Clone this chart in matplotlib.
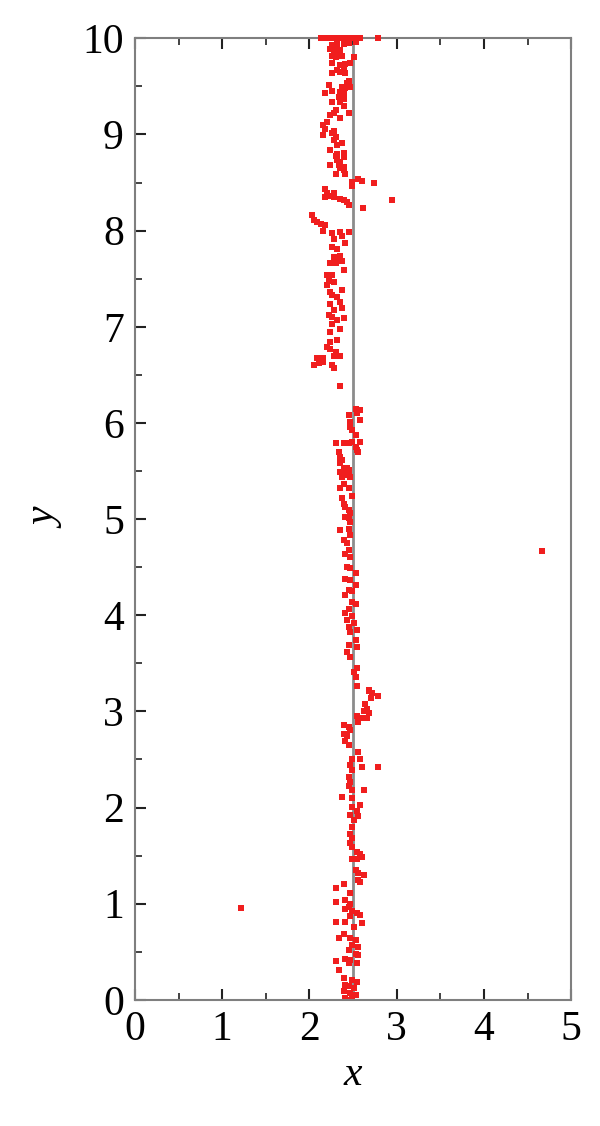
import matplotlib
matplotlib.use("Agg")
import matplotlib.pyplot as plt
import numpy as np

# ---- data ----
top_x = [2.13, 2.16, 2.20, 2.24, 2.28, 2.32, 2.35, 2.39, 2.43, 2.47, 2.51, 2.55, 2.58, 2.79]
top_y = [10.0] * len(top_x)

upper_x = [2.26, 2.32, 2.39, 2.45, 2.53, 2.24, 2.28, 2.35, 2.32, 2.37, 2.26, 2.30, 2.51,
           2.26, 2.35, 2.41, 2.47, 2.39, 2.32, 2.35, 2.41, 2.26,
           2.45, 2.43, 2.22, 2.37, 2.41, 2.47,
           2.26, 2.35, 2.39, 2.18, 2.34, 2.39, 2.26, 2.35, 2.39,
           2.30, 2.28, 2.45, 2.24,
           2.35, 2.20, 2.16, 2.18, 2.28, 2.26, 2.16, 2.30, 2.28, 2.32,
           2.37, 2.24, 2.32, 2.39, 2.30, 2.39, 2.32, 2.35, 2.24, 2.34, 2.35, 2.39, 2.30, 2.41, 2.39,
           2.56, 2.60, 2.49, 2.74, 2.49,
           2.18, 2.20, 2.28,
           2.18, 2.24, 2.28, 2.35, 2.39, 2.43, 2.45, 2.61, 2.95,
           2.03, 2.05, 2.09, 2.13, 2.18, 2.16, 2.26, 2.35, 2.45,
           2.37, 2.28, 2.41, 2.26, 2.32, 2.35, 2.28, 2.34, 2.24, 2.30, 2.37, 2.39,
           2.20, 2.26, 2.22, 2.28, 2.20, 2.37, 2.24, 2.26, 2.32, 2.24, 2.35, 2.37, 2.28, 2.22,
           2.26, 2.39, 2.32, 2.26, 2.35, 2.24, 2.32, 2.24, 2.20, 2.24, 2.30, 2.28, 2.09, 2.16, 2.35,
           2.05, 2.11, 2.16, 2.26, 2.28, 2.35]
upper_y = [9.93, 9.94, 9.94, 9.95, 9.96, 9.89, 9.88, 9.88, 9.84, 9.82, 9.82, 9.81, 9.81,
           9.74, 9.72, 9.73, 9.74, 9.69, 9.67, 9.65, 9.64, 9.64,
           9.56, 9.53, 9.51, 9.49, 9.48, 9.49,
           9.45, 9.44, 9.43, 9.43, 9.39, 9.37, 9.34, 9.34, 9.30,
           9.25, 9.22, 9.22, 9.20,
           9.17, 9.13, 9.10, 9.06, 9.04, 9.01, 8.99, 8.97, 8.94, 8.89,
           8.91, 8.84, 8.80, 8.81, 8.78, 8.77, 8.73, 8.71, 8.68, 8.68, 8.65, 8.66, 8.59, 8.59, 8.63,
           8.54, 8.52, 8.51, 8.50, 8.46,
           8.43, 8.39, 8.39,
           8.35, 8.36, 8.35, 8.33, 8.32, 8.30, 8.27, 8.24, 8.32,
           8.16, 8.11, 8.09, 8.07, 8.06, 8.00, 7.97, 7.99, 7.99,
           7.94, 7.91, 7.87, 7.83, 7.81, 7.74, 7.73, 7.71, 7.66, 7.66, 7.68, 7.59,
           7.54, 7.54, 7.48, 7.47, 7.43, 7.38, 7.36, 7.33, 7.31, 7.24, 7.26, 7.19, 7.17, 7.12,
           7.10, 7.09, 7.07, 7.03, 6.98, 6.95, 6.86, 6.84, 6.79, 6.77, 6.74, 6.70, 6.67, 6.67, 6.70,
           6.60, 6.62, 6.63, 6.60, 6.57, 6.38]

lower_x = [2.53, 2.58, 2.45, 2.55, 2.58, 2.47, 2.47, 2.49, 2.53,
           2.30, 2.39, 2.45, 2.49, 2.58, 2.53, 2.55, 2.56,
           2.34, 2.35, 2.37, 2.35, 2.39, 2.35, 2.45, 2.43, 2.37, 2.47,
           2.40, 2.43, 2.38, 2.45,
           2.39, 2.35, 2.45, 2.49, 2.37, 2.39, 2.41, 2.45, 2.47, 2.41, 2.45, 2.47,
           2.35, 2.45, 2.47, 2.39, 2.43, 2.45, 2.41, 2.47,
           2.43, 2.47, 2.53, 2.41, 2.47, 2.53, 2.45, 2.41, 2.49, 2.49, 2.53, 2.45, 2.41, 2.49,
           2.43, 2.51, 2.45, 2.55, 2.47, 2.53, 2.45, 2.55, 2.43, 2.47, 2.55, 2.51, 2.53, 2.55, 2.68,
           2.68, 2.72, 2.78, 2.70, 2.64, 2.66, 2.62, 2.68, 2.55, 2.60, 2.66, 2.56,
           2.39, 2.45, 2.47, 2.39, 2.43, 2.41, 2.45,
           2.56, 2.49, 2.58, 2.47, 2.60, 2.79, 2.49,
           2.45, 2.47, 2.45, 2.49, 2.62, 2.37, 2.49,
           2.58, 2.49, 2.55, 2.56, 2.47, 2.51,
           2.49, 2.47, 2.49, 2.47, 2.49, 2.55, 2.58,
           2.60, 2.55, 2.49, 2.53, 2.56, 2.62, 2.56, 2.58,
           2.30, 2.39, 2.47, 2.41, 2.47, 2.30, 2.45, 2.41, 2.49, 2.55, 2.58, 2.47, 2.41, 2.60, 2.30, 2.51,
           2.39, 2.34, 2.47, 2.53, 2.49, 2.56, 2.45, 2.53, 2.56, 2.41, 2.47, 2.30, 2.45, 2.55, 2.34,
           2.39, 2.49, 2.55, 2.41, 2.45, 2.51, 2.39, 2.47, 2.53, 2.41, 2.49, 2.43]
lower_y = [6.15, 6.13, 6.08, 6.10, 6.03, 6.01, 5.96, 5.93, 5.87,
           5.79, 5.79, 5.79, 5.80, 5.80, 5.75, 5.72, 5.70,
           5.70, 5.65, 5.61, 5.58, 5.53, 5.49, 5.51, 5.46, 5.44, 5.44,
           5.50, 5.53, 5.47, 5.48,
           5.37, 5.32, 5.32, 5.24, 5.22, 5.16, 5.13, 5.09, 5.06, 5.02, 5.01, 4.97,
           4.89, 4.90, 4.83, 4.78, 4.75, 4.68, 4.64, 4.61,
           4.50, 4.49, 4.44, 4.38, 4.37, 4.31, 4.26, 4.21, 4.25, 4.14, 4.12, 4.07, 4.02, 3.99,
           3.95, 3.92, 3.88, 3.85, 3.83, 3.74, 3.69, 3.67, 3.62, 3.57, 3.45, 3.41, 3.36, 3.26, 3.22,
           3.21, 3.19, 3.16, 3.14, 3.08, 3.03, 3.00, 2.98, 2.95, 2.93, 2.93, 2.89,
           2.86, 2.84, 2.81, 2.77, 2.74, 2.69, 2.65,
           2.58, 2.51, 2.51, 2.44, 2.42, 2.42, 2.39,
           2.32, 2.27, 2.22, 2.18, 2.18, 2.11, 2.10,
           2.03, 2.01, 1.96, 1.91, 1.92, 1.87,
           1.80, 1.73, 1.68, 1.63, 1.59, 1.54, 1.52,
           1.49, 1.47, 1.46, 1.35, 1.32, 1.30, 1.25, 1.23,
           1.16, 1.20, 1.11, 1.04, 1.00, 1.02, 0.97, 0.94, 0.92, 0.90, 0.88, 0.87, 0.81, 0.80, 0.81, 0.76,
           0.68, 0.64, 0.64, 0.62, 0.57, 0.55, 0.52, 0.48, 0.47, 0.43, 0.415, 0.40, 0.38, 0.38, 0.31,
           0.225, 0.21, 0.19, 0.16, 0.14, 0.12, 0.09, 0.07, 0.05, 0.02, 0.02, 0.00]

outlier_x = [1.21, 4.66]
outlier_y = [0.96, 4.67]

ref_x = 2.5
xticks = [0, 1, 2, 3, 4, 5]
yticks = [0, 1, 2, 3, 4, 5, 6, 7, 8, 9, 10]

# ---- figure ----
fig = plt.figure(figsize=(6.0, 11.26), dpi=100)
ax = fig.add_axes([0.225, 0.112, 0.727, 0.854])

serif = ["Liberation Serif", "DejaVu Serif"]
red = "#f01e1e"
ax.axvline(ref_x, color="#8c8c8c", lw=2.0, zorder=1)

body_x = upper_x + lower_x + outlier_x
body_y = upper_y + lower_y + outlier_y
ax.scatter(body_x, body_y, marker="s", s=20, color=red, linewidths=0, zorder=2)
ax.scatter(top_x, top_y, marker="s", s=20, color=red, linewidths=0, zorder=4, clip_on=False)

ax.set_xlim(0, 5)
ax.set_ylim(0, 10)
ax.set_xticks(xticks)
ax.set_yticks(yticks)
ax.set_xticks(np.arange(0.5, 5, 1.0), minor=True)
ax.set_yticks(np.arange(0.5, 10, 1.0), minor=True)

for s in ax.spines.values():
    s.set_color("#7f7f7f")
    s.set_linewidth(1.5)

ax.tick_params(which="major", direction="in", length=8, width=1.5, color="#222222",
               top=True, right=False, labelsize=30, pad=8)
ax.tick_params(which="minor", direction="in", length=5, width=1.2, color="#222222",
               top=True, right=False)
for lab in ax.get_xticklabels() + ax.get_yticklabels():
    lab.set_fontfamily(serif)

ax.set_xlabel("x", fontsize=30, fontstyle="italic", family=serif, labelpad=4)
ax.set_ylabel("y", fontsize=30, fontstyle="italic", family=serif, labelpad=12)

fig.savefig("out.png", dpi=100, facecolor="white")
